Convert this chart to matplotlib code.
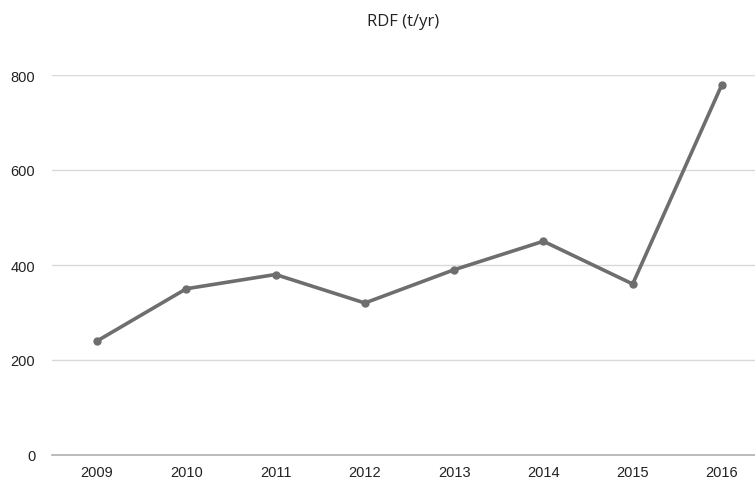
import matplotlib
matplotlib.use("Agg")
import matplotlib.pyplot as plt

years = ["2009", "2010", "2011", "2012", "2013", "2014", "2015", "2016"]
rdf = [240, 350, 380, 320, 390, 450, 360, 780]
yticks = [0, 200, 400, 600, 800]

fig = plt.figure(figsize=(7.55, 4.85), dpi=100)
W, H = 755, 485
left, right, bottom, top = 52, 755, 456, 76
ax = fig.add_axes([left / W, 1 - bottom / H, (right - left) / W, (bottom - top) / H])

x = list(range(len(years)))
ax.plot(x, rdf, color="#6e6e6e", linewidth=2.6, marker="o", markersize=5,
        solid_capstyle="round", zorder=3, clip_on=False)

ax.set_ylim(0, 800)
ax.set_xlim(-0.504, 7.37)
ax.set_yticks(yticks)
ax.set_xticks(x)
ax.set_xticklabels(years)
ax.grid(axis="y", color="#d9d9d9", linewidth=1.0)
ax.set_axisbelow(True)
for s in ["top", "right", "left"]:
    ax.spines[s].set_visible(False)
ax.spines["bottom"].set_color("#b0b0b0")
ax.spines["bottom"].set_linewidth(1.2)
ax.tick_params(axis="both", length=0, labelsize=10.5, colors="#222222",
               labelfontfamily="Liberation Sans")
ax.tick_params(axis="y", pad=12)
ax.tick_params(axis="x", pad=7)

fig.text((left + right) / 2 / W, 1 - 22 / H, "RDF (t/yr)", ha="center", va="center",
         fontsize=12, color="#222222", family="Open Sans")

fig.savefig("out.png", dpi=100)
